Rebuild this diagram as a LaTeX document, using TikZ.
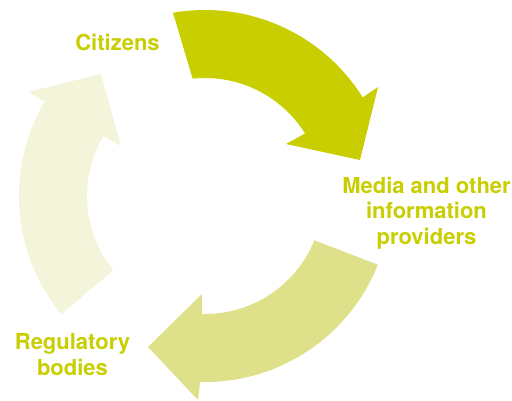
\documentclass[tikz,border=0pt]{standalone}
\usepackage{fontspec}
\setmainfont{TeX Gyre Heros}
\usetikzlibrary{calc}
\definecolor{darkg}{RGB}{200,206,0}
\definecolor{midg}{RGB}{223,224,138}
\definecolor{paleg}{RGB}{243,244,217}
\tikzset{
  lbl/.style={text=darkg, font=\bfseries\fontsize{22}{25.5}\selectfont, align=center, inner sep=0pt, anchor=base}
}
\begin{document}
\begin{tikzpicture}[x=1pt,y=1pt]
\useasboundingbox (0,0) rectangle (512,400);
\coordinate (c) at (205,204);
% top arrow: citizens -> media
\fill[darkg] ($(c)+(99.9:186)$) arc[start angle=99.9, end angle=32, radius=186pt]
  -- (378,313) -- (360,240) -- (286,256) -- ($(c)+(32:118)$)
  arc[start angle=32, end angle=96, radius=118pt] -- cycle;
% bottom arrow: media -> regulatory
\fill[midg] ($(c)+(-21.7:186)$) arc[start angle=-21.7, end angle=-91.5, radius=186pt]
  -- (198,0) -- (148,53) -- (202,106) -- ($(c)+(-91.5:118)$)
  arc[start angle=-91.5, end angle=-22, radius=118pt] -- cycle;
% left arrow: regulatory -> citizens
\fill[paleg] ($(c)+(219.4:186)$) arc[start angle=219.4, end angle=149.5, radius=186pt]
  -- (28,308) -- (101,326) -- (121,254) -- ($(c)+(149.5:118)$)
  arc[start angle=149.5, end angle=219, radius=118pt] -- cycle;
\node[lbl] (cit) at (117.5,349.3) {Citizens};
\node[lbl] (med) at (426.5,156) {Media and other\\information\\providers};
\node[lbl] (reg) at (72.5,25) {Regulatory\\bodies};
\end{tikzpicture}
\end{document}
